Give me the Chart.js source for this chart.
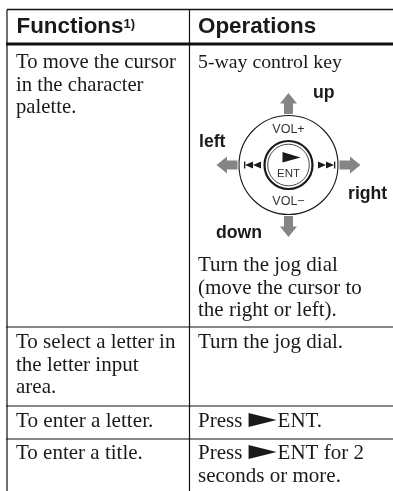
<!DOCTYPE html>
<html><head><meta charset="utf-8">
<style>html,body{margin:0;padding:0;background:#fff}#w{width:393px;height:491px;position:relative}</style>
<script src="https://cdn.jsdelivr.net/npm/chart.js@4"></script></head>
<body><div id="w"><canvas id="c" width="393" height="491"></canvas></div>
<script>
const headers = ["Functions", "Operations"];
const headerNote = "1)";
const functionCells = [
  ["To move the cursor", "in the character", "palette."],
  ["To select a letter in", "the letter input", "area."],
  ["To enter a letter."],
  ["To enter a title."]
];
const operationCells = [
  ["5-way control key"],
  ["Turn the jog dial", "(move the cursor to", "the right or left)."],
  ["Turn the jog dial."],
  ["Press \u25B6ENT."],
  ["Press \u25B6ENT for 2", "seconds or more."]
];
const directionLabels = ["up", "left", "right", "down"];
const dialLabels = ["VOL+", "ENT", "VOL\u2212"];

/* layout, in page pixels, mapped through the chart's scales */
const L = {left:7, mid:189.5, right:393, top:9.5, head:44, bottom:491, rules:[327,406,439]};
const SERIF = '"Liberation Serif","Times New Roman",serif';
const SANS = '"Liberation Sans",Arial,sans-serif';
const INK = '#1a1a1a', GREY = '#858585';

const gridSegments = [
  {p:[[L.left,L.top],[L.right,L.top]], w:1.4},
  {p:[[L.left-1,L.head],[L.right,L.head]], w:3},
  {p:[[L.left,L.top],[L.left,L.bottom]], w:1.2},
  {p:[[L.mid,L.top],[L.mid,L.bottom]], w:1.2},
  ...L.rules.map(r=>({p:[[L.left-1,r],[L.right,r]], w:1.2}))
];

const tablePlugin = {
  id:'table',
  afterDraw(chart){
    const c = chart.ctx, X = v=>chart.scales.x.getPixelForValue(v), Y = v=>chart.scales.y.getPixelForValue(v);
    c.save();
    c.fillStyle = INK; c.textBaseline = 'alphabetic'; c.textAlign = 'left';
    const text = (s,x,y,font)=>{c.font = font; c.fillText(s,X(x),Y(y));};

    /* header */
    const hf = 'bold 22.4px '+SANS;
    text(headers[0],16.5,32.5,hf);
    c.font = hf; const hw = c.measureText(headers[0]).width;
    text(headerNote,16.5+hw,28,'bold 13px '+SANS);
    text(headers[1],198,32.5,hf);

    /* body text with an inline play glyph */
    const lh = 22.6;
    const body = (s,x,y,size)=>{
      const bf = size+'px '+SERIF;
      const i = s.indexOf('\u25B6');
      if(i<0){ text(s,x,y,bf); return; }
      const a = s.slice(0,i), b = s.slice(i+1);
      text(a,x,y,bf);
      c.font = bf; const ax = x + c.measureText(a).width + 1;
      c.beginPath(); c.moveTo(X(ax),Y(y-14)); c.lineTo(X(ax+28),Y(y-7)); c.lineTo(X(ax),Y(y)); c.closePath(); c.fill();
      text(b,ax+29,y,bf);
    };
    const lines = (arr,x,y,size)=>arr.forEach((s,i)=>body(s,x,y+i*lh,size));
    lines(functionCells[0],16,68,20.7);
    lines(functionCells[1],16,348,21);
    lines(functionCells[2],16,427,21.2);
    lines(functionCells[3],16,459,21);
    lines(operationCells[0],198,68,19.8);
    lines(operationCells[1],198,271,21);
    lines(operationCells[2],198,348,21);
    lines(operationCells[3],198,427,21);
    lines(operationCells[4],198,459,21);

    /* direction arrows */
    const cx=288.5, cy=165;
    c.fillStyle = GREY;
    const arrow = (pts)=>{c.beginPath(); pts.forEach((p,i)=>{const m=i?'lineTo':'moveTo'; c[m](X(cx+p[0]),Y(cy+p[1]));}); c.closePath(); c.fill();};
    const base = [[0,-72],[8.5,-61.5],[4.5,-61.5],[4.5,-51],[-4.5,-51],[-4.5,-61.5],[-8.5,-61.5]];
    arrow(base);
    arrow(base.map(p=>[p[0],-p[1]]));
    arrow(base.map(p=>[p[1],p[0]]));
    arrow(base.map(p=>[-p[1],p[0]]));

    /* dial */
    c.strokeStyle = INK; c.fillStyle = INK;
    const ring=(r,w)=>{c.lineWidth=w; c.beginPath(); c.arc(X(cx),Y(cy),r,0,Math.PI*2); c.stroke();};
    ring(49.5,1.1); ring(24,2.2); ring(20.8,0.8);
    c.textAlign='center';
    c.fillStyle='#333';
    text(dialLabels[0],cx,133,'12.5px '+SANS);
    text(dialLabels[1],cx,177,'11.5px '+SANS);
    text(dialLabels[2],cx,205,'12.5px '+SANS);
    c.fillStyle=INK;
    c.beginPath(); c.moveTo(X(cx-6),Y(cy-13)); c.lineTo(X(cx+12),Y(cy-7.5)); c.lineTo(X(cx-6),Y(cy-2.5)); c.closePath(); c.fill();
    const skip=(dir,s)=>{
      c.beginPath(); c.moveTo(X(s),Y(cy-3.5)); c.lineTo(X(s+dir*8),Y(cy)); c.lineTo(X(s),Y(cy+3.5)); c.closePath(); c.fill();
      c.beginPath(); c.moveTo(X(s+dir*8),Y(cy-3.5)); c.lineTo(X(s+dir*16),Y(cy)); c.lineTo(X(s+dir*8),Y(cy+3.5)); c.closePath(); c.fill();
      c.fillRect(X(s+dir*16)-(dir<0?1:0),Y(cy-3.5),1.3,7);
    };
    skip(-1,261); skip(1,318);

    /* direction labels: condensed bold */
    c.textAlign='left';
    const label=(s,x,y)=>{
      c.save(); c.translate(X(x),Y(y)); c.scale(0.93,1);
      c.font='bold 19px '+SANS; c.fillText(s,0,0); c.restore();
    };
    label(directionLabels[0],313,98);
    label(directionLabels[1],199,147);
    label(directionLabels[2],348,199);
    label(directionLabels[3],216,238);
    c.restore();
  }
};

new Chart(document.getElementById('c'),{
  type:'scatter',
  data:{datasets:gridSegments.map(s=>({
    data:s.p.map(q=>({x:q[0],y:q[1]})),
    showLine:true, borderColor:'#111', borderWidth:s.w, pointRadius:0, fill:false, clip:false
  }))},
  options:{
    responsive:false, animation:false, events:[],
    layout:{padding:0},
    plugins:{legend:{display:false},tooltip:{enabled:false},title:{display:false}},
    scales:{
      x:{type:'linear',min:0,max:393,display:false},
      y:{type:'linear',min:0,max:491,reverse:true,display:false}
    }
  },
  plugins:[tablePlugin]
});
</script></body></html>
